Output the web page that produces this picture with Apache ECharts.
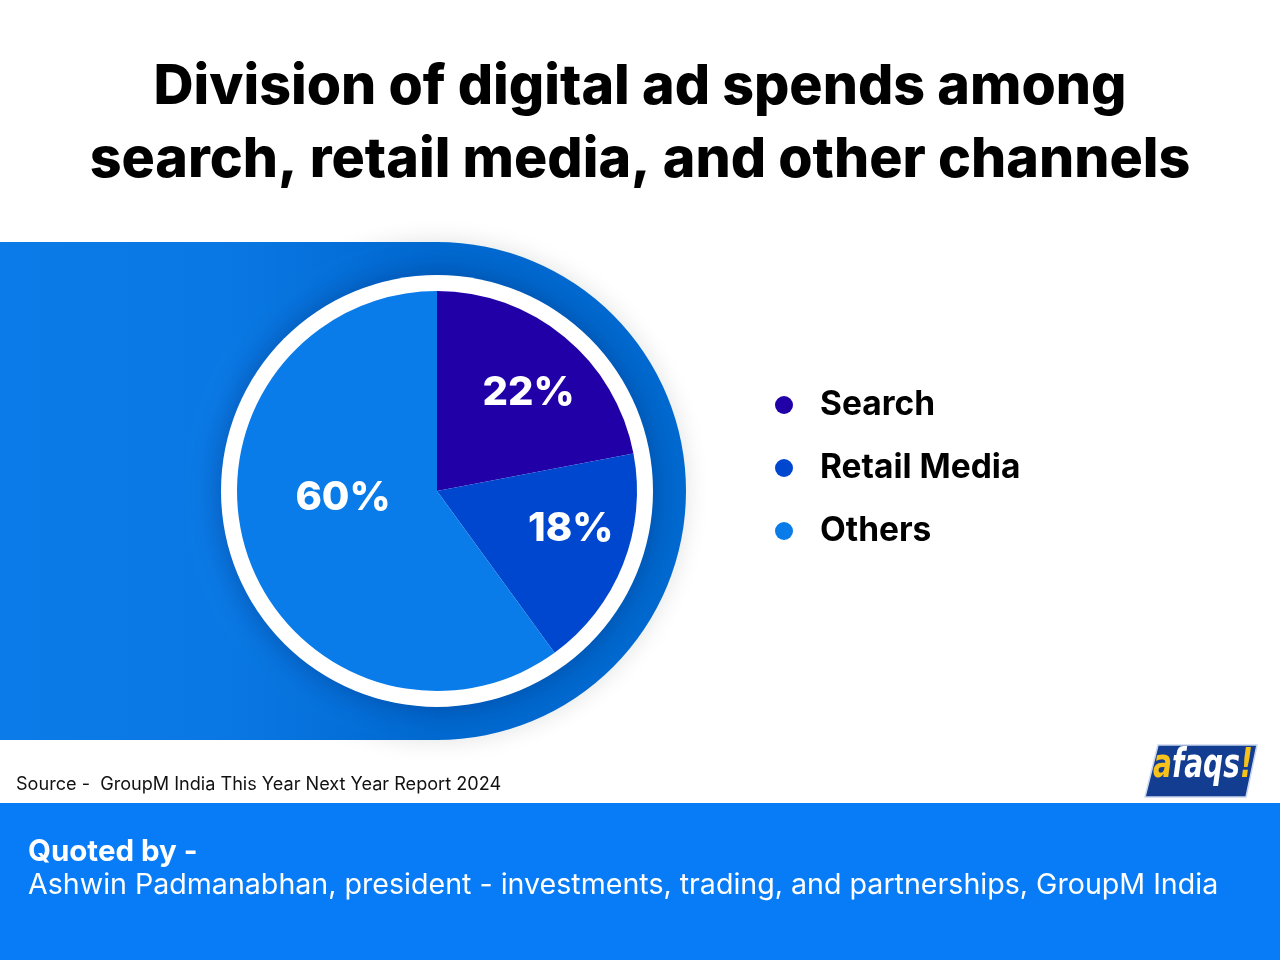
<!DOCTYPE html>
<html>
<head>
<meta charset="utf-8">
<script src="https://cdn.jsdelivr.net/npm/echarts@6/dist/echarts.min.js"></script>
<style>
html,body{margin:0;padding:0;background:#fff;}
#chart{width:1280px;height:960px;}
</style>
</head>
<body>
<div id="chart"></div>
<script>
const titleLines = ["Division of digital ad spends among", "search, retail media, and other channels"];
const categories = ["Search", "Retail Media", "Others"];
const shares = [22, 18, 60];
const sourceText = "Source -  GroupM India This Year Next Year Report 2024";
const quoteHead = "Quoted by -";
const quoteBody = "Ashwin Padmanabhan, president - investments, trading, and partnerships, GroupM India";

const sliceColors = ["#2100a8", "#0047d0", "#0a7ce9"];
const labelOffsets = [[26, -19], [38, 0], [4, -25]];
const CX = 437, CY = 491, R = 200;
const FONT = "Inter, 'Noto Sans', sans-serif";
const LOGO_FONT = "'Liberation Sans Narrow', 'DejaVu Sans Condensed', sans-serif";

const chart = echarts.init(document.getElementById('chart'), null, {renderer: 'canvas'});

const option = {
  backgroundColor: '#ffffff',
  animation: false,
  title: {
    text: titleLines.join('\n'),
    left: 'center',
    top: 46,
    textStyle: {
      fontFamily: FONT,
      fontWeight: 800,
      fontSize: 55.5,
      lineHeight: 73,
      color: '#000000'
    }
  },
  legend: {
    orient: 'vertical',
    left: 770,
    top: 382,
    icon: 'circle',
    itemWidth: 18,
    itemHeight: 18,
    itemGap: 27,
    selectedMode: false,
    data: categories,
    textStyle: {
      fontFamily: FONT,
      fontWeight: 700,
      fontSize: 33.5,
      lineHeight: 36,
      color: '#000000',
      padding: [0, 0, 0, 22]
    }
  },
  graphic: [
    {
      type: 'circle', z: 0, silent: true,
      shape: {cx: CX, cy: CY, r: 249},
      style: {fill: '#0068cf', shadowColor: 'rgba(0,0,0,0.12)', shadowBlur: 24}
    },
    {
      type: 'rect', z: 0, silent: true,
      shape: {x: 0, y: CY - 249, width: CX, height: 498},
      style: {
        fill: new echarts.graphic.LinearGradient(0, 0, 1, 0, [
          {offset: 0, color: '#0a7be8'},
          {offset: 0.5, color: '#0a78e4'},
          {offset: 1, color: '#0068d0'}
        ])
      }
    },
    {
      type: 'circle', z: 1, silent: true,
      shape: {cx: CX, cy: CY, r: 216},
      style: {fill: '#ffffff', shadowColor: 'rgba(0,20,80,0.35)', shadowBlur: 30}
    },
    {
      type: 'text', z: 5, left: 16, top: 776, silent: true,
      style: {text: sourceText, fontFamily: FONT, fontSize: 18.1, fill: '#111111'}
    },
    {
      type: 'rect', z: 0, silent: true,
      shape: {x: 0, y: 803, width: 1280, height: 157},
      style: {fill: '#087bf6'}
    },
    {
      type: 'text', z: 5, left: 28, top: 837, silent: true,
      style: {text: quoteHead, fontFamily: FONT, fontWeight: 700, fontSize: 29.5, fill: '#ffffff'}
    },
    {
      type: 'text', z: 5, left: 28, top: 871, silent: true,
      style: {text: quoteBody, fontFamily: FONT, fontWeight: 400, fontSize: 28.6, fill: '#ffffff'}
    },
    {
      type: 'polygon', z: 5, silent: true,
      shape: {points: [[1158, 745], [1257, 745], [1246, 797], [1145, 797]]},
      style: {fill: '#123d91', stroke: '#c9d6ee', lineWidth: 1.5, lineJoin: 'round'}
    },
    {
      type: 'text', z: 6, x: 1153, y: 747, scaleX: 0.78, silent: true,
      style: {
        x: 0, y: 0,
        text: '{a|a}{b|faqs}{a|!}',
        rich: {
          a: {fontFamily: LOGO_FONT, fontWeight: 'bold', fontStyle: 'italic', fontSize: 40, fill: '#f7c21a'},
          b: {fontFamily: LOGO_FONT, fontWeight: 'bold', fontStyle: 'italic', fontSize: 40, fill: '#ffffff'}
        }
      }
    }
  ],
  series: [
    {
      type: 'pie',
      z: 3,
      center: [CX, CY],
      radius: R,
      startAngle: 90,
      clockwise: true,
      silent: true,
      emphasis: {disabled: true},
      itemStyle: {borderWidth: 0},
      label: {
        show: true,
        position: 'inside',
        formatter: '{c}%',
        fontFamily: FONT,
        fontWeight: 800,
        fontSize: 40,
        color: '#ffffff'
      },
      labelLine: {show: false},
      data: categories.map((name, i) => ({
        name: name,
        value: shares[i],
        itemStyle: {color: sliceColors[i]},
        label: {offset: labelOffsets[i]}
      }))
    }
  ]
};
chart.setOption(option);
</script>
</body>
</html>
